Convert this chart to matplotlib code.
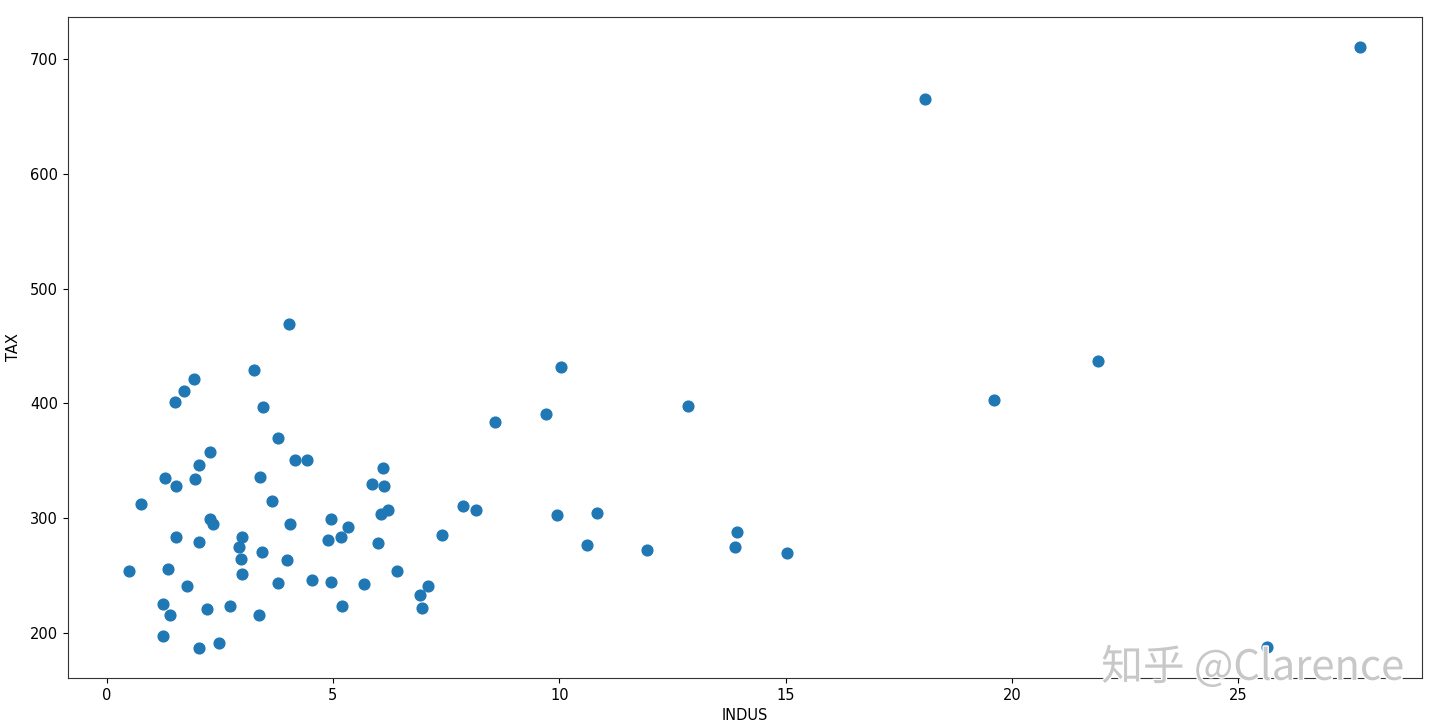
import matplotlib
matplotlib.use("Agg")
import matplotlib.pyplot as plt
import matplotlib.patheffects as pe

indus = [27.70, 18.09, 25.64, 19.60, 21.90, 10.03, 9.70, 8.59, 12.84, 9.94,
         10.83, 10.61, 11.94, 13.93, 13.88, 15.04, 7.88, 8.15, 7.42, 6.42,
         7.09, 6.93, 6.97, 4.03, 3.26, 3.45, 3.79, 4.16, 4.43, 3.39,
         3.65, 4.05, 3.99, 3.43, 3.79, 3.37, 4.54, 4.96, 5.68, 5.20,
         4.96, 5.34, 4.90, 5.17, 5.87, 6.11, 6.12, 6.00, 6.07, 6.21,
         0.50, 0.77, 1.28, 1.35, 1.24, 1.41, 1.25, 1.54, 1.54, 1.51,
         1.72, 1.93, 1.95, 2.05, 2.29, 2.05, 1.78, 2.22, 2.05, 2.49,
         2.29, 2.35, 2.72, 2.92, 2.96, 2.99, 2.99]
tax = [710.5, 665, 187.8, 403, 437, 431.6, 390.6, 384, 397.6, 303,
       304.9, 276.9, 272.6, 288.3, 275, 270, 311, 307, 285.7, 254,
       241, 233, 222, 469, 429, 397, 369.6, 351, 351, 336,
       315, 295, 264, 271, 243.7, 215.7, 246, 244.6, 242.6, 223.6,
       299.6, 292.7, 281, 283.9, 330, 344, 328.5, 278, 304, 307.5,
       254, 312.8, 335, 256, 225, 216, 197, 328.5, 284, 401,
       410.7, 421, 334, 346.8, 357.3, 279.5, 241, 221, 187, 191.3,
       299.7, 295.3, 223.6, 275, 264.7, 283.9, 251.6]

x_label = "INDUS"
y_label = "TAX"
watermark = "知乎 @Clarence"

fig = plt.figure(figsize=(14.4, 7.28), dpi=100)
ax = fig.add_axes([0.047, 0.0687, 0.9405, 0.908])
ax.scatter(indus, tax, s=60, color="#1f77b4")
ax.set_xlabel(x_label, fontsize=10.5, labelpad=4)
ax.set_ylabel(y_label, fontsize=10.5, labelpad=6)
ax.tick_params(labelsize=10.5)
for s in ax.spines.values():
    s.set_color("#333333")

t = fig.text(0.975, 0.083, watermark, ha="right", va="center", fontsize=30,
             color="#c8c8c8", family=["Noto Sans CJK SC", "DejaVu Sans"])
t.set_path_effects([pe.withStroke(linewidth=2, foreground="white")])

fig.savefig("out.png", dpi=100)
